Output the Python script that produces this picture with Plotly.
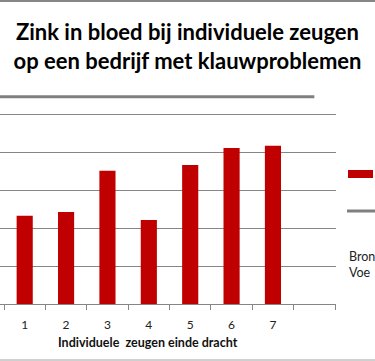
import plotly.graph_objects as go

# ---- data ----
categories = [1, 2, 3, 4, 5, 6, 7, 8]
tick_labels = ["1", "2", "3", "4", "5", "6", "7", ""]
zink_values = [0.466, 0.487, 0.704, 0.444, 0.735, 0.825, 0.836, None]
ref_x = [0, 8]
ref_values = [1.095, 1.095]

W, H = 375, 361
L, R = 0, 336      # plot area px
T, B = 77, 304

def px(xpix):
    return xpix / W

def py(ypix):
    return 1 - ypix / H

RED = "#C00000"
GRAY = "#868686"
FONT = "Lato"

fig = go.Figure()
fig.add_trace(go.Bar(x=categories, y=zink_values, marker_color=RED,
                     marker_line_width=0, width=0.39, showlegend=False))
fig.add_trace(go.Scatter(x=ref_x, y=ref_values, mode="lines",
                         line=dict(color="#7f7f7f", width=3), showlegend=False))

shapes = [
    # legend symbols
    dict(type="rect", xref="paper", yref="paper", x0=px(348), x1=px(373),
         y0=py(178), y1=py(170), fillcolor=RED, line_width=0),
    dict(type="line", xref="paper", yref="paper", x0=px(347), x1=px(375),
         y0=py(211), y1=py(211), line=dict(color="#7f7f7f", width=3)),
    # outer frame lines of the (cropped) chart
    dict(type="line", xref="paper", yref="paper", x0=0, x1=1,
         y0=py(1), y1=py(1), line=dict(color=GRAY, width=2)),
    dict(type="line", xref="paper", yref="paper", x0=0, x1=1,
         y0=py(360), y1=py(360), line=dict(color="#a0a0a0", width=1)),
]

annotations = [
    dict(text="Individuele\u00a0\u00a0zeugen einde dracht", xref="paper", yref="paper",
         x=px(148), y=py(342), showarrow=False, xanchor="center", yanchor="middle",
         font=dict(family=FONT, size=12.5, color="#111", weight="bold")),
    dict(text="Bron<br>Voe", xref="paper", yref="paper",
         x=px(347), y=py(264), showarrow=False, xanchor="left", yanchor="middle",
         align="left", font=dict(family=FONT, size=12.5, color="#222")),
]

fig.update_layout(
    width=W, height=H,
    margin=dict(l=0, r=0, t=0, b=0, pad=0),
    paper_bgcolor="white", plot_bgcolor="white",
    title=dict(text="Zink in bloed bij individuele zeugen<br>op een bedrijf met klauwproblemen",
               xref="container", yref="container", x=0.5, xanchor="center",
               y=1 - 40 / H, yanchor="middle",
               font=dict(family=FONT, size=22, color="#000", weight="bold")),
    bargap=0.6,
    shapes=shapes,
    annotations=annotations,
    showlegend=False,
    xaxis=dict(domain=[L / W, R / W], range=[0.403, 8.524], tickmode="array",
               tickvals=categories, ticktext=tick_labels, ticks="", showgrid=False,
               zeroline=False, showline=True, linecolor=GRAY, linewidth=1,
               ticklabelstandoff=10,
               tickfont=dict(family=FONT, size=12, color="#222"),
               minor=dict(tickmode="linear", tick0=0.5, dtick=1, ticks="outside",
                          ticklen=5, tickcolor=GRAY, tickwidth=1, showgrid=False)),
    yaxis=dict(domain=[1 - B / H, 1 - T / H], range=[0, 1.2], dtick=0.2,
               showgrid=True, gridcolor=GRAY, gridwidth=1,
               zeroline=False, showticklabels=False, ticks="", showline=False),
)

fig.write_html("out.html", config={"displayModeBar": False},
               post_script="document.body.style.margin='0';")
